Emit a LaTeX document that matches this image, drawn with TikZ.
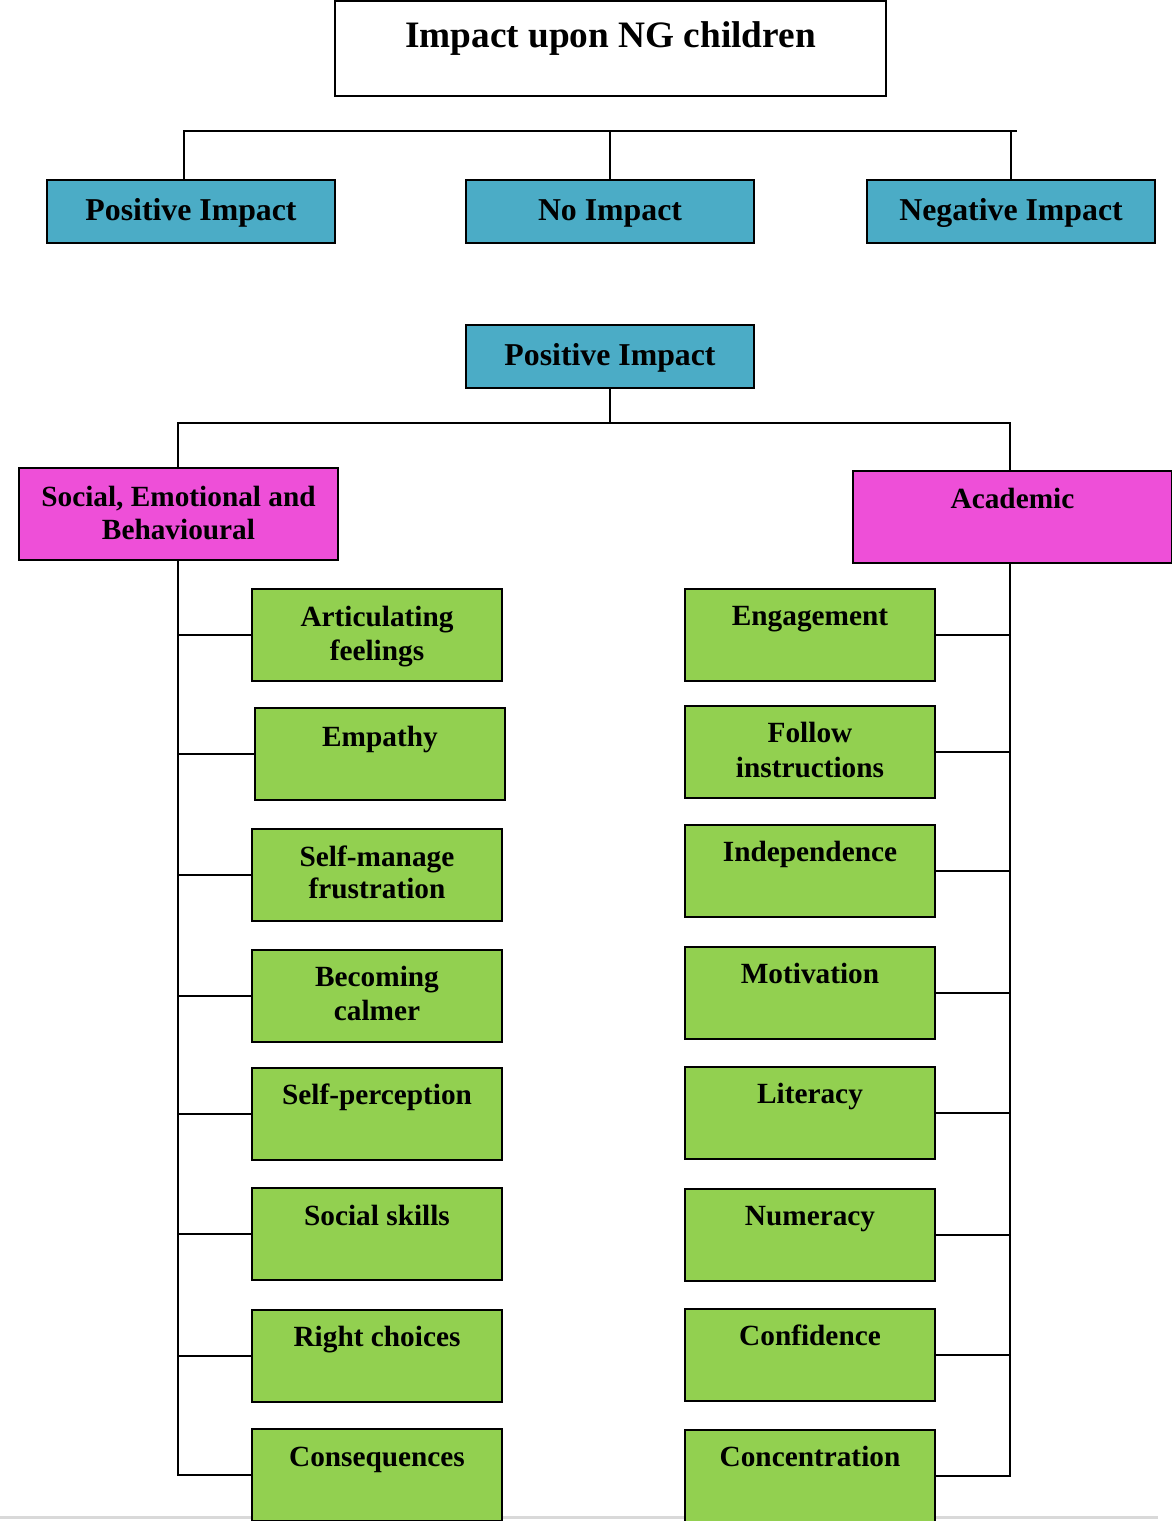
\documentclass[tikz,border=0pt]{standalone}
\usepackage{fontspec}
\setmainfont{Liberation Serif}
\definecolor{impblue}{HTML}{4BACC6}
\definecolor{areapink}{HTML}{EE4FD8}
\definecolor{itemgreen}{HTML}{92D050}
\definecolor{pageedge}{HTML}{D9D9D9}
\tikzset{
  box/.style={draw=black, line width=2pt, inner sep=0pt, anchor=north west},
  topbox/.style={box, fill=white, minimum width=551pt, minimum height=95pt},
  bluebox/.style={box, fill=impblue, minimum width=288pt, minimum height=63pt},
  pinkbox/.style={box, fill=areapink, minimum width=319pt},
  greenbox/.style={box, fill=itemgreen, minimum width=250pt, minimum height=92pt},
  conn/.style={draw=black, line width=2pt},
  titletxt/.style={anchor=base, inner sep=0pt, font=\fontsize{37.3}{42}\selectfont\bfseries},
  bluetxt/.style={anchor=base, inner sep=0pt, font=\fontsize{31.8}{36}\selectfont\bfseries},
  itemtxt/.style={anchor=base, inner sep=0pt, font=\fontsize{29.3}{34}\selectfont\bfseries},
}
\begin{document}
\begin{tikzpicture}[x=1pt,y=-1pt]
\useasboundingbox (0,0) rectangle (1171,1521);

% page edge
\coordinate (edgeL) at (0,1517);
\coordinate (edgeR) at (1158,1517);
\draw[pageedge, line width=3pt] (edgeL) -- (edgeR);

% title
\node[topbox] (title) at (334,0) {};
\node[titletxt] (titlet) at ([yshift=-47pt]title.north) {Impact upon NG children};

% three kinds of impact
\node[bluebox] (pos) at (46,179) {};
\node[bluebox] (none) at (465,179) {};
\node[bluebox] (neg) at (866,179) {};
\node[bluetxt] (post) at ([yshift=-41pt]pos.north) {Positive Impact};
\node[bluetxt] (nonet) at ([yshift=-41pt]none.north) {No Impact};
\node[bluetxt] (negt) at ([yshift=-41pt]neg.north) {Negative Impact};

\coordinate (barL) at (184,131);
\coordinate (barR) at (1017,131);
\draw[conn] (pos.north -| barL) -- (barL) -- (barR);
\draw[conn] (none.north) -- (none.north |- barL);
\draw[conn] (neg.north) -- (neg.north |- barL);

% positive impact breakdown
\node[bluebox] (pos2) at (465,324) {};
\node[bluetxt] (pos2t) at ([yshift=-41pt]pos2.north) {Positive Impact};

\node[pinkbox, minimum height=92pt] (seb) at (18,467) {};
\node[itemtxt] (sebt1) at ([yshift=-39pt]seb.north) {Social, Emotional and};
\node[itemtxt] (sebt2) at ([yshift=-72pt]seb.north) {Behavioural};

\node[pinkbox, minimum height=92pt] (acad) at (852,470) {};
\node[itemtxt] (acadt) at ([yshift=-38pt]acad.north) {Academic};

\coordinate (jL) at (178,423);
\coordinate (jR) at (1010,423);
\draw[conn] (pos2.south) -- (pos2.south |- jL);
\draw[conn] (seb.north -| jL) -- (jL) -- (jR) -- (acad.north -| jR);

% social, emotional and behavioural items
\node[greenbox] (l1) at (251,588) {};
\node[itemtxt] (l1a) at ([yshift=-38pt]l1.north) {Articulating};
\node[itemtxt] (l1b) at ([yshift=-72pt]l1.north) {feelings};
\node[greenbox] (l2) at (254,707) {};
\node[itemtxt] (l2a) at ([yshift=-39pt]l2.north) {Empathy};
\node[greenbox] (l3) at (251,828) {};
\node[itemtxt] (l3a) at ([yshift=-38pt]l3.north) {Self-manage};
\node[itemtxt] (l3b) at ([yshift=-70pt]l3.north) {frustration};
\node[greenbox] (l4) at (251,949) {};
\node[itemtxt] (l4a) at ([yshift=-37pt]l4.north) {Becoming};
\node[itemtxt] (l4b) at ([yshift=-71pt]l4.north) {calmer};
\node[greenbox] (l5) at (251,1067) {};
\node[itemtxt] (l5a) at ([yshift=-37pt]l5.north) {Self-perception};
\node[greenbox] (l6) at (251,1187) {};
\node[itemtxt] (l6a) at ([yshift=-38pt]l6.north) {Social skills};
\node[greenbox] (l7) at (251,1309) {};
\node[itemtxt] (l7a) at ([yshift=-37pt]l7.north) {Right choices};
\node[greenbox] (l8) at (251,1428) {};
\node[itemtxt] (l8a) at ([yshift=-38pt]l8.north) {Consequences};

\draw[conn] (seb.south -| jL) -- (jL |- l8.west) -- (l8.west);
\foreach \n in {l1,l2,l3,l4,l5,l6,l7}
  \draw[conn] (\n.west) -- (\n.west -| jL);

% academic items
\node[greenbox] (r1) at (684,588) {};
\node[itemtxt] (r1a) at ([yshift=-37pt]r1.north) {Engagement};
\node[greenbox] (r2) at (684,705) {};
\node[itemtxt] (r2a) at ([yshift=-37pt]r2.north) {Follow};
\node[itemtxt] (r2b) at ([yshift=-72pt]r2.north) {instructions};
\node[greenbox] (r3) at (684,824) {};
\node[itemtxt] (r3a) at ([yshift=-37pt]r3.north) {Independence};
\node[greenbox] (r4) at (684,946) {};
\node[itemtxt] (r4a) at ([yshift=-37pt]r4.north) {Motivation};
\node[greenbox] (r5) at (684,1066) {};
\node[itemtxt] (r5a) at ([yshift=-37pt]r5.north) {Literacy};
\node[greenbox] (r6) at (684,1188) {};
\node[itemtxt] (r6a) at ([yshift=-37pt]r6.north) {Numeracy};
\node[greenbox] (r7) at (684,1308) {};
\node[itemtxt] (r7a) at ([yshift=-37pt]r7.north) {Confidence};
\node[greenbox] (r8) at (684,1429) {};
\node[itemtxt] (r8a) at ([yshift=-37pt]r8.north) {Concentration};

\draw[conn] (acad.south -| jR) -- (jR |- r8.east) -- (r8.east);
\foreach \n in {r1,r2,r3,r4,r5,r6,r7}
  \draw[conn] (\n.east) -- (\n.east -| jR);
\end{tikzpicture}
\end{document}
